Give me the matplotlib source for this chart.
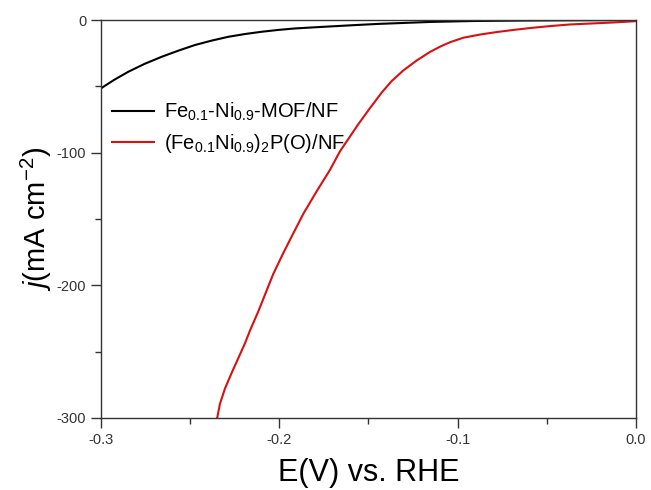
import matplotlib.pyplot as plt

plt.rcParams['font.family'] = ['Liberation Sans', 'DejaVu Sans']
plt.rcParams['mathtext.fontset'] = 'custom'
plt.rcParams['mathtext.rm'] = 'Liberation Sans'
plt.rcParams['mathtext.it'] = 'Liberation Sans:italic'

# Fe0.1-Ni0.9-MOF/NF
mof_E = [-0.300, -0.2925, -0.2847, -0.2755, -0.266, -0.2565, -0.2473, -0.238,
         -0.2286, -0.2192, -0.2099, -0.2005, -0.1912, -0.1810, -0.1716,
         -0.158, -0.145, -0.1155, -0.092, -0.06, -0.03, 0.0]
mof_j = [-51.5, -45.0, -39.0, -33.0, -27.7, -23.0, -18.8, -15.5,
         -12.6, -10.5, -8.8, -7.4, -6.3, -5.5, -4.8,
         -3.8, -2.9, -1.4, -0.7, -0.3, -0.1, 0.0]

# (Fe0.1Ni0.9)2P(O)/NF
pho_E = [-0.2348, -0.2333, -0.2305, -0.2267, -0.223, -0.2192, -0.2164,
         -0.2118, -0.208, -0.2034, -0.1978, -0.1921, -0.1865, -0.179,
         -0.1716, -0.166, -0.1557, -0.1495, -0.1425, -0.137, -0.1305,
         -0.123, -0.1155, -0.1095, -0.1043, -0.0968, -0.087,
         -0.078, -0.068, -0.0594, -0.048, -0.037, -0.0127, 0.0]
pho_j = [-300, -289.5, -278.0, -266.0, -255.0, -243.6, -234.0,
         -219.8, -207.0, -191.5, -175.8, -160.7, -146.0, -129.0,
         -113.0, -99.0, -78.5, -67.0, -54.5, -46.0, -38.0,
         -30.5, -24.0, -19.8, -16.7, -13.3, -10.8,
         -9.0, -7.3, -6.0, -4.5, -3.3, -1.8, -0.8]

fig = plt.figure(figsize=(6.51, 4.90), dpi=100)
ax = fig.add_axes([0.155, 0.147, 0.822, 0.812])

ax.plot(mof_E, mof_j, color='black', lw=1.5,
        label='Fe$_{0.1}$-Ni$_{0.9}$-MOF/NF')
ax.plot(pho_E, pho_j, color='#d81010', lw=1.5,
        label='(Fe$_{0.1}$Ni$_{0.9}$)$_2$P(O)/NF')

ax.set_xlim(-0.3, 0.0)
ax.set_ylim(-300, 0)
ax.set_xticks([-0.3, -0.2, -0.1, 0.0])
ax.set_xticks([-0.25, -0.15, -0.05], minor=True)
ax.set_yticks([-300, -200, -100, 0])
ax.set_yticks([-250, -150, -50], minor=True)
ax.set_xticklabels(['-0.3', '-0.2', '-0.1', '0.0'])
ax.set_yticklabels(['-300', '-200', '-100', '0'])
ax.tick_params(which='major', direction='out', length=7, width=1,
               labelsize=10.5, colors='#333333')
ax.tick_params(which='minor', direction='out', length=4, width=1,
               colors='#333333')
for s in ax.spines.values():
    s.set_color('#333333')
    s.set_linewidth(1)

ax.set_xlabel('E(V) vs. RHE', fontsize=22, labelpad=8)
ax.set_ylabel('$\\mathit{j}$(mA cm$^{-2}$)', fontsize=21, labelpad=2)

ax.legend(loc='upper left', bbox_to_anchor=(-0.013, 0.843), frameon=False,
          fontsize=14.5, handlelength=2.1, handletextpad=0.5, labelspacing=0.45)

fig.savefig('out.png', dpi=100)
